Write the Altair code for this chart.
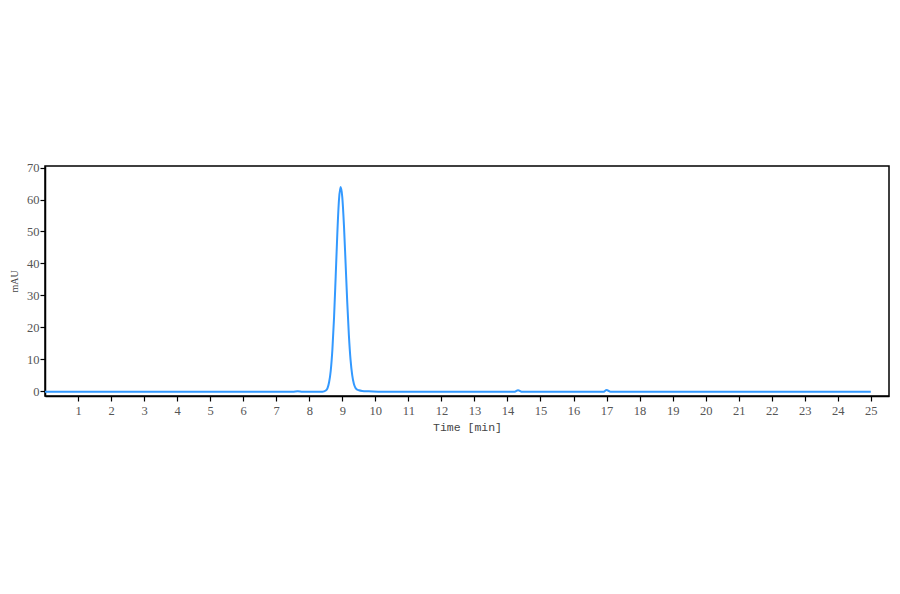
import altair as alt
import pandas as pd

# Chromatogram (time in min, absorbance in mAU)
times = [0, 7.5, 7.65, 7.8, 8.4, 8.5, 8.55, 8.6, 8.65, 8.7, 8.75, 8.8, 8.85, 8.9,
         8.95, 9.0, 9.05, 9.1, 9.15, 9.2, 9.25, 9.3, 9.35, 9.4, 9.45, 9.5, 9.6,
         9.8, 10.2, 14.2, 14.32, 14.45, 16.9, 17.0, 17.12, 25.0]
values = [-0.2, -0.2, 0.0, -0.2, -0.2, 0.2, 0.9, 2.8, 6.4, 13.0, 23.0, 36.0, 49.5, 60.0,
          63.9, 60.7, 51.9, 40.0, 27.8, 17.4, 9.8, 5.0, 2.3, 1.0, 0.5, 0.3, 0.1,
          0.0, -0.2, -0.2, 0.3, -0.2, -0.2, 0.4, -0.2, -0.2]
x_ticks = list(range(1, 26))
y_ticks = [0, 10, 20, 30, 40, 50, 60, 70]

df = pd.DataFrame({"t": times, "v": values})

font = "Liberation Serif"

chart = alt.Chart(df).mark_line(color="#3399ff", strokeWidth=2, interpolate="monotone").encode(
    x=alt.X("t:Q", title="Time [min]",
            scale=alt.Scale(domain=[0, 25.55], nice=False, zero=False),
            axis=alt.Axis(values=x_ticks, grid=False, domainColor="black", domainWidth=1.5,
                          tickColor="black", tickSize=5, tickWidth=1.2,
                          labelColor="#555555", labelFont=font, labelFontSize=12.5,
                          labelPadding=3, titleFont="Liberation Mono", titleFontSize=11.5,
                          titleFontWeight="normal", titleColor="#444444", titlePadding=5,
                          labelFlush=False)),
    y=alt.Y("v:Q", title="mAU",
            scale=alt.Scale(domain=[-1.5, 70.5], nice=False, zero=False),
            axis=alt.Axis(values=y_ticks, grid=False, domainColor="black", domainWidth=1.5,
                          tickColor="black", tickSize=5, tickWidth=1.2,
                          labelColor="#555555", labelFont=font, labelFontSize=12.5,
                          labelPadding=1, titleFont=font, titleFontSize=10,
                          titleFontWeight="normal", titleColor="#444444", titlePadding=7,
                          labelFlush=False)),
).properties(
    width=844, height=230,
    autosize=alt.AutoSizeParams(type="none"),
    padding={"left": 37, "top": 158, "right": 3, "bottom": 150},
).configure_view(stroke="black", strokeWidth=1.5)

chart.save("out.html", embed_options={"renderer": "svg", "actions": False})
